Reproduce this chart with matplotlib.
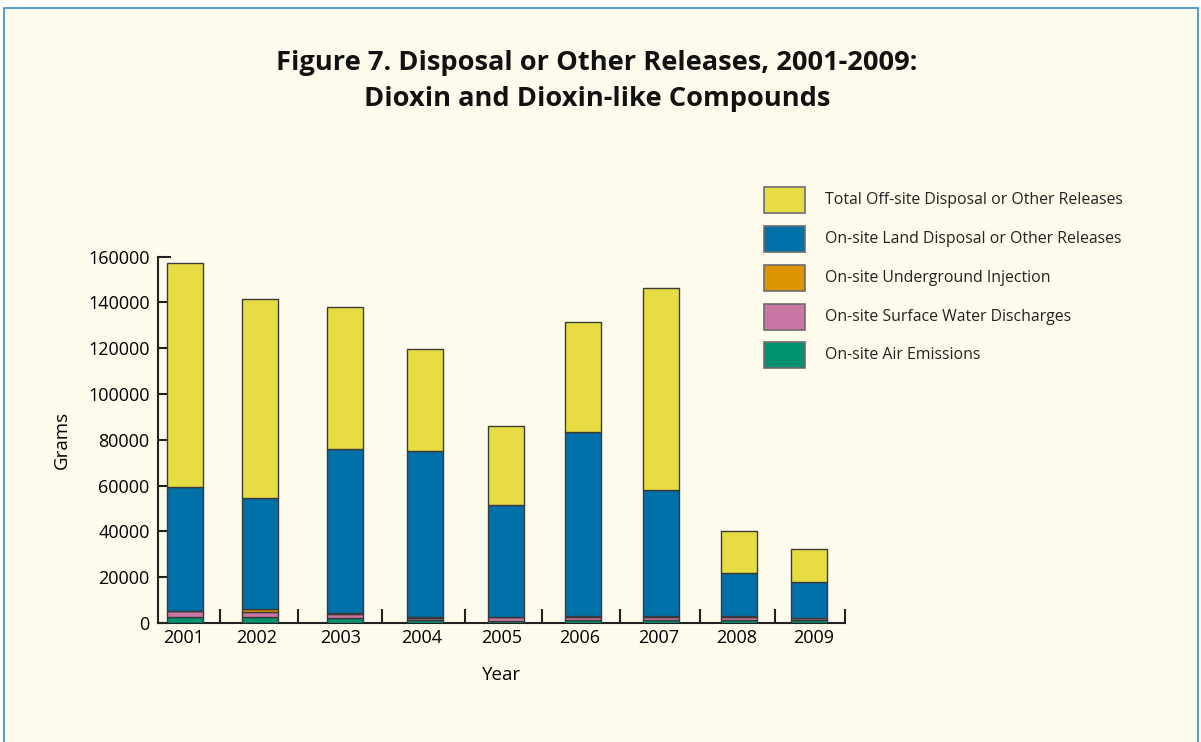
import matplotlib
matplotlib.use('Agg')

import matplotlib.pyplot as plt
from matplotlib.patches import Rectangle
import numpy as np

# Данные (граммы)
years = ['2001', '2002', '2003', '2004', '2005', '2006', '2007', '2008', '2009']
air = [2600, 2600, 2000, 1300, 1000, 1300, 1300, 1300, 1300]
water = [2600, 2300, 1900, 1000, 1500, 1500, 1500, 1500, 900]
underground = [200, 1200, 600, 300, 200, 200, 200, 200, 100]
land = [53800, 48500, 71500, 72300, 49000, 80500, 55200, 19000, 15800]
offsite = [98000, 86800, 61800, 44700, 34200, 47700, 88000, 18000, 14200]

series_names = ['On-site Air Emissions', 'On-site Surface Water Discharges',
                'On-site Underground Injection',
                'On-site Land Disposal or Other Releases',
                'Total Off-site Disposal or Other Releases']
series_colors = ['#00916E', '#CB77A6', '#DC9400', '#0070A8', '#E8DC45']

# Расположение (в пикселях исходной картинки)
bar_x = [185, 260, 345, 425, 506, 583, 661, 739, 809]
label_x = [184, 257, 341, 422, 502, 580, 659, 737, 814]
boundary_x = [220, 298, 382, 465, 542, 620, 700, 775, 845]

plt.rcParams['font.family'] = ['Open Sans', 'DejaVu Sans']

W, H = 1201, 742
fig = plt.figure(figsize=(W / 100, H / 100), dpi=100, facecolor='white')
bg = '#FFFBEC'
fig.add_artist(Rectangle((4 / W, -0.02), (1198 - 4) / W, (H - 8) / H + 0.02, transform=fig.transFigure,
                         facecolor=bg, edgecolor='#3A8AC8', linewidth=1.2, zorder=0))

ax = fig.add_axes([158 / W, (H - 623) / H, (845 - 158) / W, (623 - 256.5) / H])
ax.set_facecolor('none')

bottom = np.zeros(len(years))
for vals, col in zip([air, water, underground, land, offsite], series_colors):
    ax.bar(bar_x, vals, width=36.5, bottom=bottom, color=col,
           edgecolor='#3a3a3a', linewidth=1.0, zorder=3)
    bottom += np.array(vals)

ax.set_xlim(158, 845)
ax.set_ylim(0, 160000)
ax.set_yticks(np.arange(0, 160001, 20000))
ax.set_yticklabels([str(v) for v in range(0, 160001, 20000)], fontsize=13)
ax.set_xticks(boundary_x)
ax.set_xticklabels([])
ax.set_xticks(label_x, minor=True)
ax.set_xticklabels(years, minor=True, fontsize=13)
ax.tick_params(axis='x', which='major', direction='in', length=10, width=1.5, color='#222222')
ax.tick_params(axis='x', which='minor', length=0, pad=4)
ax.tick_params(axis='y', direction='in', length=9, width=1.5, color='#222222', pad=6)
for s in ['top', 'right']:
    ax.spines[s].set_visible(False)
for s in ['left', 'bottom']:
    ax.spines[s].set_linewidth(1.5)
    ax.spines[s].set_color('#222222')

ax.set_ylabel('Grams', fontsize=13.5, labelpad=12)
ax.set_xlabel('Year', fontsize=13.5, labelpad=14)

fig.text(597 / W, 1 - 81 / H, 'Figure 7. Disposal or Other Releases, 2001-2009:\nDioxin and Dioxin-like Compounds',
         ha='center', va='center', fontsize=19.6, fontweight='bold', linespacing=1.45, color='#111111')

# Легенда
leg_y = [200, 239, 278, 317, 355]
for name, col, y in zip(series_names[::-1], series_colors[::-1], leg_y):
    fig.add_artist(Rectangle((764 / W, 1 - (y + 13) / H), 41 / W, 26 / H, transform=fig.transFigure,
                             facecolor=col, edgecolor='#6d6d6d', linewidth=1.2))
    fig.text(825 / W, 1 - y / H, name, ha='left', va='center', fontsize=11.4, color='#222222')

fig.savefig('out.png', dpi=100, facecolor=fig.get_facecolor())
